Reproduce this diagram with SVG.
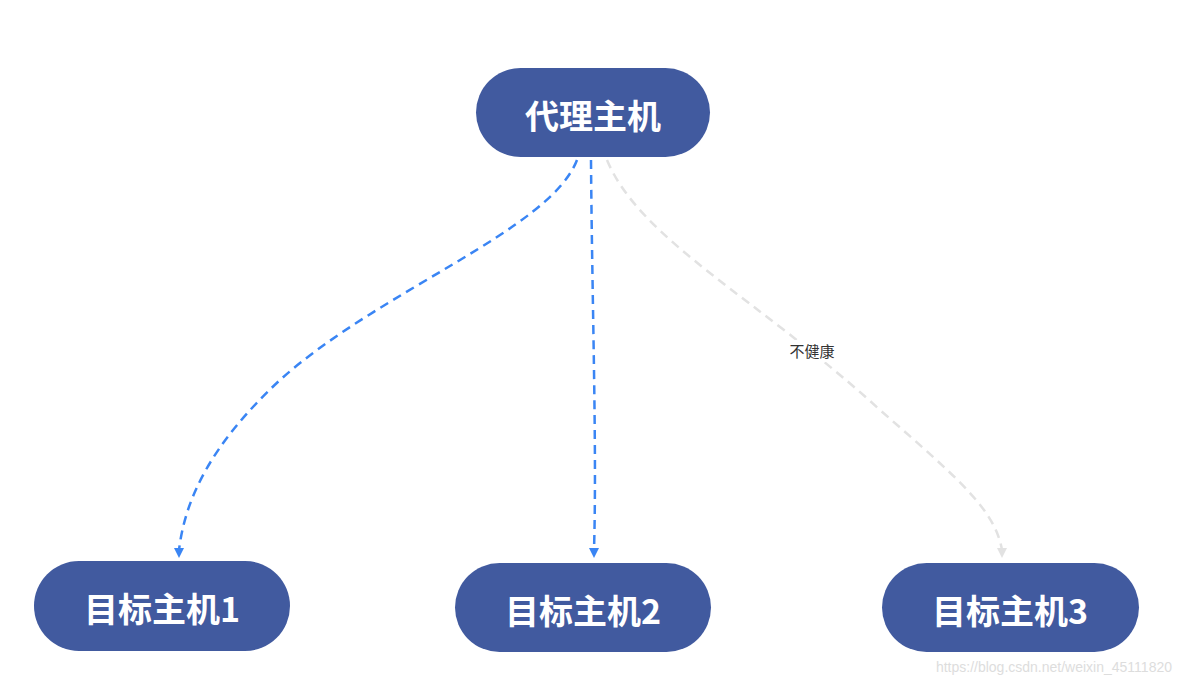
<svg xmlns="http://www.w3.org/2000/svg" width="1181" height="686" viewBox="0 0 1181 686">
<style>
.n{fill:#415a9f}
.t{fill:#fff;font-family:"Noto Sans CJK SC","Noto Sans",sans-serif;font-weight:bold;font-size:34px;text-anchor:middle}
.b{fill:none;stroke:#3a85f4;stroke-width:2.5;stroke-dasharray:9 6}
.g{fill:none;stroke:#e2e2e2;stroke-width:2.5;stroke-dasharray:9 6}
</style>
<defs>
<marker id="ab" markerWidth="10" markerHeight="10" refX="5" refY="8" orient="auto-start-reverse" markerUnits="userSpaceOnUse" viewBox="0 0 10 10"><path d="M0,0 L5,10 L10,0 Z" fill="#3a85f4" transform="rotate(0)"/></marker>
<marker id="ag" markerWidth="10" markerHeight="10" refX="5" refY="8" markerUnits="userSpaceOnUse" viewBox="0 0 10 10"><path d="M0,0 L5,10 L10,0 Z" fill="#e2e2e2"/></marker>
</defs>
<rect width="1181" height="686" fill="#fff"/>
<g id="edges">
<path class="b" d="M577,160 C550,230 380,290 280,380 C210,445 185,500 179,550"/>
<path d="M174,548 L179,558 L184,548 Z" fill="#3a85f4"/>
<path class="b" d="M591,160 C592,300 597,450 594,550"/>
<path d="M589,548 L594,558 L599,548 Z" fill="#3a85f4"/>
<path class="g" d="M607,160 C640,240 760,300 880,410 C960,480 995,510 1002,550"/>
<path d="M997,548 L1002,558 L1007,548 Z" fill="#e2e2e2"/>
<rect x="783" y="340" width="58" height="22" fill="#fff"/>
<text x="812" y="357" font-family="Noto Sans CJK SC,sans-serif" font-size="15" fill="#333" text-anchor="middle">不健康</text>
</g>
<g id="proxy"><rect class="n" x="476" y="68" width="234" height="89" rx="44.5"/><text class="t" x="593" y="129">代理主机</text></g>
<g id="t1"><rect class="n" x="34" y="561" width="256" height="90" rx="45"/><text class="t" x="162" y="622">目标主机1</text></g>
<g id="t2"><rect class="n" x="455" y="563" width="256" height="89" rx="44.5"/><text class="t" x="583" y="624">目标主机2</text></g>
<g id="t3"><rect class="n" x="882" y="563" width="257" height="89" rx="44.5"/><text class="t" x="1010" y="624">目标主机3</text></g>
<text x="1172" y="672" font-family="Liberation Sans,sans-serif" font-size="14" fill="#ddd" text-anchor="end">https://blog.csdn.net/weixin_45111820</text>
</svg>
